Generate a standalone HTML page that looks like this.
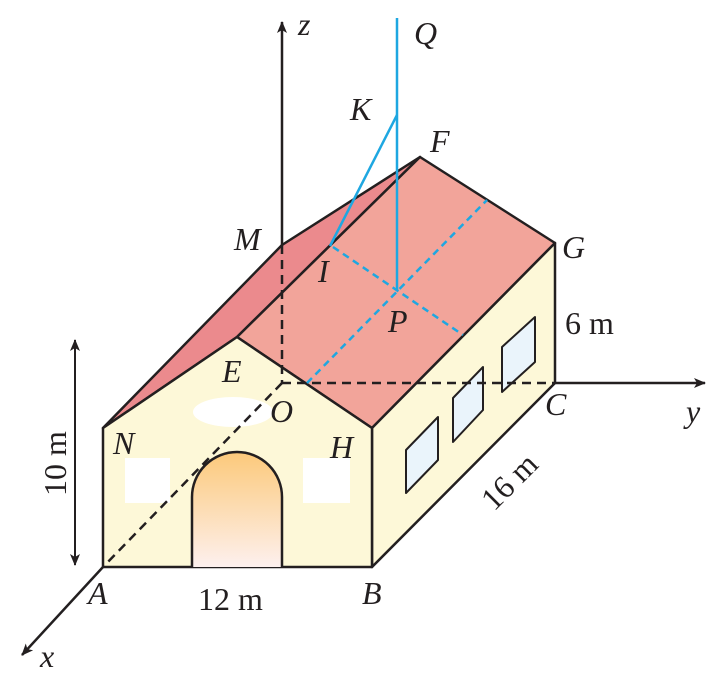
<!DOCTYPE html>
<html><head><meta charset="utf-8"><style>body{margin:0;background:#fff}svg{display:block}text{font-family:"Liberation Serif",serif;font-size:32px;fill:#231f20}</style></head><body>
<svg width="720" height="675" viewBox="0 0 720 675" xmlns="http://www.w3.org/2000/svg">
<defs>
<linearGradient id="door" x1="0" y1="0" x2="0" y2="1"><stop offset="0" stop-color="#fcc97a"/><stop offset="1" stop-color="#fdf0ee"/></linearGradient>
<marker id="ar" viewBox="0 0 12 10" refX="11" refY="5" markerWidth="12" markerHeight="10" markerUnits="userSpaceOnUse" orient="auto"><path d="M0,0 L12,5 L0,10 L3,5z" fill="#231f20"/></marker>
<marker id="ar2" viewBox="0 0 12 10" refX="11" refY="5" markerWidth="12" markerHeight="10" markerUnits="userSpaceOnUse" orient="auto-start-reverse"><path d="M0,0 L12,5 L0,10 L3,5z" fill="#231f20"/></marker>
</defs>
<g stroke="#231f20" stroke-width="2.5" stroke-linejoin="round">
<polygon points="103,428 282,245 420,157 237,337" fill="#eb8a8d"/>
<polygon points="237,337 420,157 555,243 372,428" fill="#f2a49a"/>
<polygon points="372,428 555,243 555,383 372,567" fill="#fdf8d8"/>
<polygon points="103,567 372,567 372,428 237,337 103,428" fill="#fdf8d8"/>
<path d="M192,567 V497 A45,45 0 0 1 282,497 V567" fill="url(#door)"/>
<g fill="#eaf4fb" stroke-width="2">
<polygon points="406,450 438,417 438,460 406,493"/>
<polygon points="453,398 483,367 483,410 453,442"/>
<polygon points="502,347 535,317 535,362 502,392"/>
</g>
</g>
<rect x="125" y="458" width="45" height="45" fill="#fff"/>
<rect x="303" y="458" width="47" height="45" fill="#fff"/>
<ellipse cx="233" cy="412" rx="40" ry="15" fill="#fff"/>
<g stroke="#231f20" stroke-width="2.5" fill="none">
<line x1="282" y1="245" x2="282" y2="22" marker-end="url(#ar)"/>
<line x1="555" y1="383" x2="705" y2="383" marker-end="url(#ar)"/>
<line x1="103" y1="567" x2="22" y2="655" marker-end="url(#ar)"/>
<line x1="75" y1="340" x2="75" y2="565" marker-start="url(#ar2)" marker-end="url(#ar2)" stroke-width="2"/>
<g stroke-dasharray="9,6">
<line x1="282" y1="245" x2="282" y2="383"/>
<line x1="282" y1="383" x2="555" y2="383"/>
<line x1="282" y1="383" x2="103" y2="567"/>
</g>
</g>
<g stroke="#1ea7e1" stroke-width="2.5" fill="none">
<line x1="397" y1="18" x2="397" y2="291"/>
<polyline points="330,246 397,115"/>
<g stroke-dasharray="7,5">
<line x1="333" y1="247" x2="463" y2="335"/>
<line x1="307" y1="383" x2="487" y2="200"/>
</g>
</g>
<g font-style="italic">
<text x="298" y="35">z</text>
<text x="414" y="44">Q</text>
<text x="350" y="120">K</text>
<text x="430" y="152">F</text>
<text x="234" y="250">M</text>
<text x="318" y="282">I</text>
<text x="562" y="258">G</text>
<text x="388" y="332">P</text>
<text x="222" y="382">E</text>
<text x="270" y="422">O</text>
<text x="545" y="415">C</text>
<text x="686" y="422">y</text>
<text x="113" y="454">N</text>
<text x="330" y="458">H</text>
<text x="88" y="604">A</text>
<text x="362" y="604">B</text>
<text x="40" y="667">x</text>
</g>
<text x="565" y="334">6 m</text>
<text x="198" y="610">12 m</text>
<text transform="translate(66,496) rotate(-90)">10 m</text>
<text transform="translate(494,512) rotate(-45)">16 m</text>
</svg>
</body></html>
